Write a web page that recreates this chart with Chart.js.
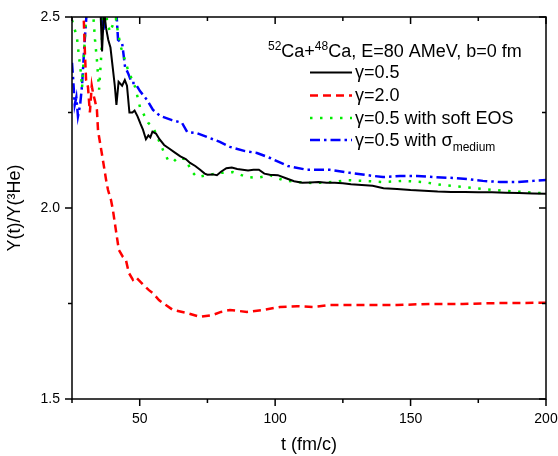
<!DOCTYPE html>
<html>
<head>
<meta charset="utf-8">
<script src="https://cdn.jsdelivr.net/npm/chart.js@4.4.1/dist/chart.umd.min.js"></script>
<style>
  body { margin: 0; background: #fff; }
</style>
</head>
<body>
<canvas id="chart" width="558" height="456"></canvas>
<script>
// gamma = 0.5
const tGamma05 = [25,30,34,35.5,36.1,36.8,37.6,38.4,39.2,40.0,40.8,41.4,42.2,43.5,44.5,45.3,46.2,47.3,48.1,49.2,50.3,51.2,52.3,53.2,53.9,54.7,56,57.3,59,61,63,65,67,68.6,70.5,72.3,74,75,77,78.5,80,82,84,86,88,90,92,94,96,98,101,104,107,110,113,116,119,122,125,128,132,136,140,145,150,155,160,165,170,175,180,185,190,195,200];
const yGamma05 = [2.95,2.8,2.62,2.52,2.41,2.52,2.47,2.44,2.42,2.37,2.32,2.27,2.33,2.32,2.335,2.32,2.25,2.25,2.255,2.24,2.22,2.205,2.18,2.19,2.185,2.2,2.195,2.18,2.165,2.155,2.145,2.135,2.128,2.118,2.11,2.1,2.09,2.087,2.088,2.086,2.095,2.104,2.106,2.102,2.1,2.098,2.1,2.1,2.09,2.087,2.086,2.078,2.07,2.066,2.067,2.068,2.066,2.066,2.065,2.062,2.06,2.058,2.052,2.05,2.047,2.045,2.043,2.042,2.042,2.041,2.041,2.04,2.039,2.038,2.037];

// gamma = 2.0
const tGamma20 = [25,28.5,29.4,29.8,30.2,30.9,31.6,32.3,32.8,33.5,34.2,34.6,35.0,36.4,37.6,38.3,39.4,40.1,41.2,42.3,43.8,44.9,46.0,47.5,48.6,51.2,53.4,54.9,57.1,58.6,62.3,67.5,72.2,77.0,80,83.3,89.6,95.5,101.8,108.1,114.0,120.2,132.4,145,157.2,169.3,181.9,200];
const yGamma20 = [3.0,2.62,2.484,2.40,2.335,2.317,2.25,2.32,2.30,2.28,2.257,2.204,2.186,2.126,2.073,2.047,2.021,1.995,1.942,1.89,1.872,1.864,1.83,1.812,1.819,1.80,1.785,1.777,1.759,1.751,1.733,1.725,1.715,1.72,1.728,1.733,1.728,1.733,1.741,1.743,1.741,1.746,1.746,1.746,1.749,1.749,1.751,1.752];

// gamma = 0.5 with soft EOS
const tSoft = [25,26.8,27.6,28.3,28.7,29.4,30.2,31,32.4,33.5,34.2,35.0,35.7,36.4,37.2,37.9,39.0,40.1,41.2,42.0,43.1,45.7,48.3,50.1,51.2,53.1,54.9,58.6,60.4,62.3,64.1,67.5,68.6,71.1,74.8,79.6,84.4,89.6,93.3,98.1,102.9,108.1,114.0,121.3,126.5,132.4,139.8,147.2,154.6,161.9,169.3,176.7,184.1,191.5,200];
const ySoft = [2.492,2.448,2.395,2.353,2.314,2.40,2.50,2.56,2.55,2.44,2.387,2.31,2.387,2.5,2.56,2.492,2.46,2.48,2.497,2.458,2.42,2.361,2.317,2.264,2.249,2.223,2.212,2.152,2.126,2.12,2.133,2.126,2.10,2.081,2.086,2.092,2.094,2.081,2.079,2.086,2.073,2.068,2.065,2.068,2.073,2.071,2.068,2.071,2.068,2.06,2.055,2.05,2.045,2.042,2.038];

// gamma = 0.5 with sigma_medium
const tSigma = [25,25.5,26,26.6,27.2,28.0,28.7,29.2,29.8,30.5,32,35.5,36.4,37.3,38,41,42.0,43.5,44.6,45.7,47.1,48.3,50.1,52.7,54.9,57.5,61.9,65.6,67.5,71.1,75.9,79.6,83.3,88.9,93.3,98.1,104.7,111.7,120.2,127.6,133.9,139.8,146.1,152.4,158.3,164.5,170.8,176.7,183.0,189.3,195.2,200];
const ySigma = [2.38,2.33,2.27,2.29,2.24,2.27,2.32,2.38,2.45,2.52,2.6,2.52,2.458,2.5,2.56,2.56,2.44,2.432,2.369,2.353,2.327,2.327,2.306,2.283,2.257,2.241,2.23,2.223,2.199,2.196,2.183,2.173,2.16,2.149,2.144,2.131,2.11,2.10,2.10,2.092,2.086,2.081,2.084,2.084,2.081,2.079,2.076,2.071,2.068,2.068,2.071,2.073];

const xTicks = [25, 50, 75, 100, 125, 150, 175, 200];
const yTicks = [1.5, 1.75, 2.0, 2.25, 2.5];
const legendTitle = ['52', 'Ca+', '48', 'Ca, E=80 AMeV, b=0 fm'];

const FONT = "'Liberation Sans', Arial, sans-serif";

function toPoints(ts, ys) {
    return ts.map((t, i) => ({ x: t, y: ys[i] }));
}

// frame, inner/outer ticks and the legend box
const framePlugin = {
    id: 'frame',
    afterDatasetsDraw(chart) {
        const { ctx, chartArea: a, scales: { x, y } } = chart;
        ctx.save();
        ctx.strokeStyle = '#000';
        ctx.lineWidth = 1.5;
        ctx.strokeRect(a.left, a.top, a.right - a.left, a.bottom - a.top);

        ctx.beginPath();
        xTicks.forEach(t => {
            const px = x.getPixelForValue(t);
            const len = t % 50 === 0 ? 7 : 4;
            ctx.moveTo(px, a.bottom); ctx.lineTo(px, a.bottom + len);
            ctx.moveTo(px, a.top); ctx.lineTo(px, a.top + len);
        });
        yTicks.forEach(v => {
            const py = y.getPixelForValue(v);
            const len = Math.abs(v * 2 - Math.round(v * 2)) < 1e-6 ? 7 : 4;
            ctx.moveTo(a.left, py); ctx.lineTo(a.left - len, py);
            ctx.moveTo(a.right, py); ctx.lineTo(a.right - len, py);
        });
        ctx.stroke();

        // legend
        ctx.fillStyle = '#000';
        ctx.textBaseline = 'alphabetic';
        let tx = 268;
        const ty = 57;
        legendTitle.forEach((s, i) => {
            const sup = i % 2 === 0;
            ctx.font = (sup ? '12px ' : '18px ') + FONT;
            ctx.fillText(s, tx, sup ? ty - 7 : ty);
            tx += ctx.measureText(s).width;
        });

        const rows = [72.5, 95.5, 118, 140];
        chart.data.datasets.forEach((ds, i) => {
            const ry = rows[i];
            ctx.save();
            ctx.strokeStyle = ds.borderColor;
            ctx.lineWidth = ds.borderWidth;
            ctx.setLineDash(ds.borderDash || []);
            ctx.beginPath();
            ctx.moveTo(310, ry);
            ctx.lineTo(352, ry);
            ctx.stroke();
            ctx.restore();

            ctx.font = '18px ' + FONT;
            ctx.textBaseline = 'middle';
            ctx.fillText(ds.label, 355, ry + 1);
            if (ds.sub) {
                const w = ctx.measureText(ds.label).width;
                ctx.font = '12px ' + FONT;
                ctx.fillText(ds.sub, 355 + w, ry + 8);
            }
        });
        ctx.restore();
    }
};

new Chart(document.getElementById('chart'), {
    type: 'line',
    data: {
        datasets: [{
            label: 'γ=0.5',
            data: toPoints(tGamma05, yGamma05),
            borderColor: '#000000',
            borderWidth: 2
        }, {
            label: 'γ=2.0',
            data: toPoints(tGamma20, yGamma20),
            borderColor: '#ff0000',
            borderWidth: 2.5,
            borderDash: [8, 5]
        }, {
            label: 'γ=0.5 with soft EOS',
            data: toPoints(tSoft, ySoft),
            borderColor: '#00ee00',
            borderWidth: 2.5,
            borderDash: [2.5, 7.5]
        }, {
            label: 'γ=0.5 with σ',
            sub: 'medium',
            data: toPoints(tSigma, ySigma),
            borderColor: '#0000ff',
            borderWidth: 2.5,
            borderDash: [10, 4, 2.5, 4]
        }]
    },
    options: {
        responsive: false,
        animation: false,
        clip: 0,
        elements: {
            point: { radius: 0 },
            line: { tension: 0, fill: false }
        },
        layout: { padding: { top: 17, right: 12, left: 0, bottom: 0 } },
        plugins: {
            legend: { display: false },
            tooltip: { enabled: false }
        },
        scales: {
            x: {
                type: 'linear',
                min: 25,
                max: 200,
                afterFit(scale) {
                    scale.height = 57;
                    scale.paddingLeft = 0;
                    scale.paddingRight = 0;
                },
                afterBuildTicks(scale) { scale.ticks = xTicks.map(v => ({ value: v })); },
                grid: { display: false, drawTicks: false },
                border: { display: false },
                ticks: {
                    padding: 12,
                    color: '#000',
                    font: { family: FONT, size: 14 },
                    maxRotation: 0,
                    autoSkip: false,
                    callback: v => (v % 50 === 0 ? String(v) : '')
                },
                title: {
                    display: true,
                    text: 't (fm/c)',
                    color: '#000',
                    font: { family: FONT, size: 18 },
                    padding: { top: 4, bottom: 0 }
                }
            },
            y: {
                min: 1.5,
                max: 2.5,
                afterFit(scale) {
                    scale.width = 72;
                    scale.paddingTop = 0;
                    scale.paddingBottom = 0;
                },
                afterBuildTicks(scale) { scale.ticks = yTicks.map(v => ({ value: v })); },
                grid: { display: false, drawTicks: false },
                border: { display: false },
                ticks: {
                    padding: 12,
                    color: '#000',
                    font: { family: FONT, size: 14 },
                    autoSkip: false,
                    callback: v => (Math.abs(v * 2 - Math.round(v * 2)) < 1e-6 ? v.toFixed(1) : '')
                },
                title: {
                    display: true,
                    text: 'Y(t)/Y(³He)',
                    color: '#000',
                    font: { family: FONT, size: 18 },
                    padding: { top: 4, bottom: 0 }
                }
            }
        }
    },
    plugins: [framePlugin]
});
</script>
</body>
</html>
